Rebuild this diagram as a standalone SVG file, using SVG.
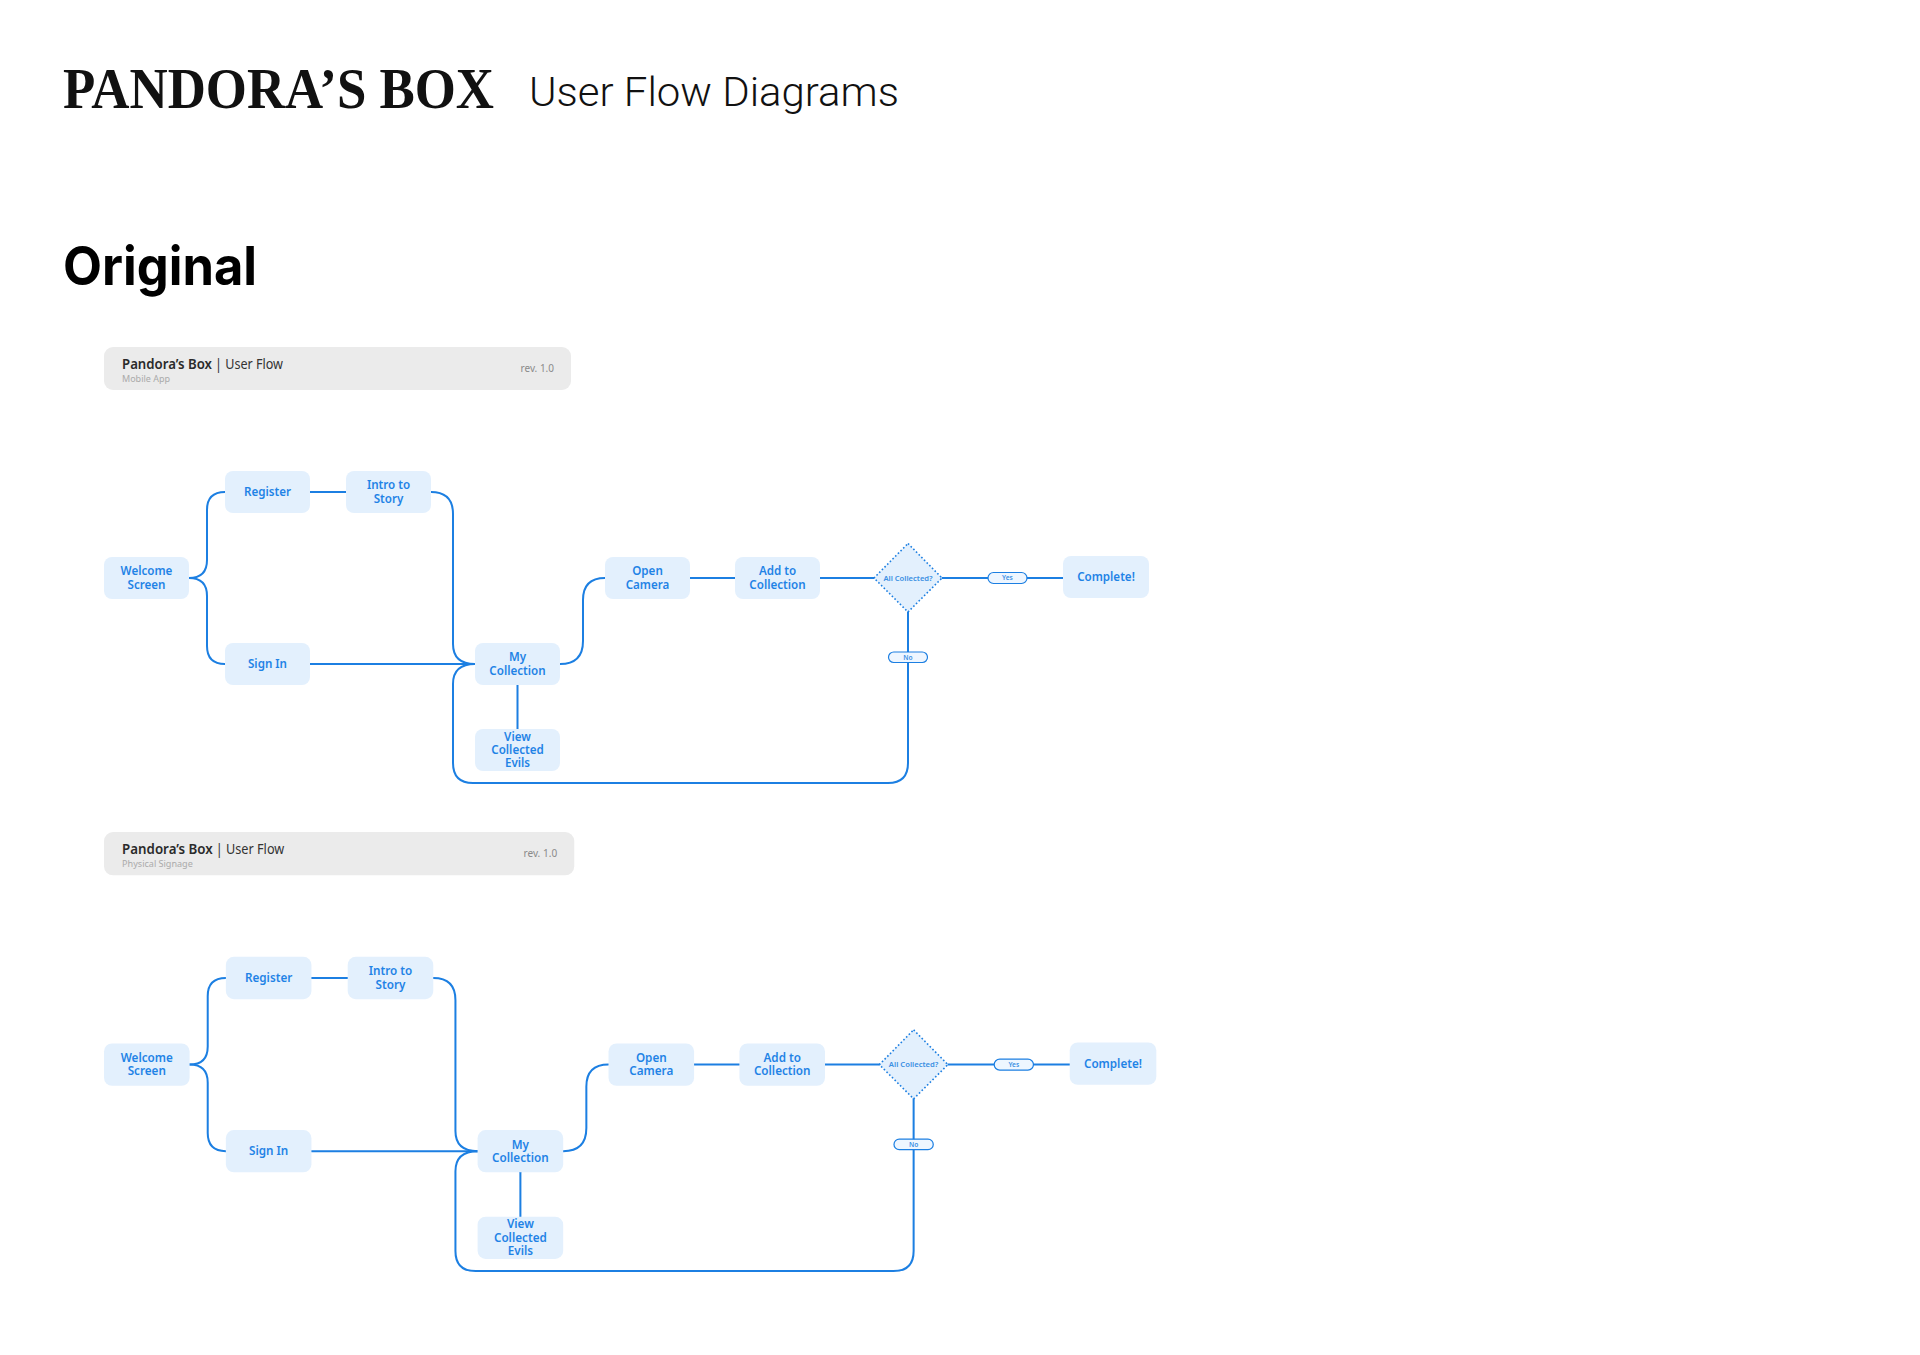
<svg xmlns="http://www.w3.org/2000/svg" width="1920" height="1355" viewBox="0 0 1920 1355">
<defs>
<style>
.bg{fill:#ffffff}
.node rect{fill:#e3f0fd}
.nt{font-family:"Noto Sans","Liberation Sans",sans-serif;font-size:11.6px;font-weight:600;fill:#1f83e6;text-anchor:middle}
.conn path{fill:none;stroke:#1c7fe2;stroke-width:2;stroke-linecap:round;stroke-linejoin:round}
.dia{fill:#e3f0fd;stroke:#1c7fe2;stroke-width:1.6;stroke-dasharray:1.6 2.2}
.dt{font-family:"Noto Sans","Liberation Sans",sans-serif;font-size:7.6px;font-weight:600;fill:#3a8fe3;text-anchor:middle}
.pill rect{fill:#eef6ff;stroke:#1c7fe2;stroke-width:1.2}
.pt{font-family:"Noto Sans","Liberation Sans",sans-serif;font-size:6.6px;font-weight:600;fill:#3a8fe3;text-anchor:middle}
.hdr rect{fill:#ebebeb}
.h1{font-family:"Noto Sans","Liberation Sans",sans-serif;font-size:13.5px;font-weight:600;fill:#2a2a2a}
.h2{font-family:"Noto Sans","Liberation Sans",sans-serif;font-size:13.5px;font-weight:400;fill:#333333}
.h3{font-family:"Noto Sans","Liberation Sans",sans-serif;font-size:9px;fill:#aaaaaa}
.h4{font-family:"Noto Sans","Liberation Sans",sans-serif;font-size:10px;fill:#8a8a8a;text-anchor:end}
</style>
</defs>
<rect class="bg" x="0" y="0" width="1920" height="1355"/>

<g id="title">
<text x="63" y="108" font-family="'Liberation Serif','Times New Roman',serif" font-weight="bold" font-size="58" fill="#111" textLength="431" lengthAdjust="spacingAndGlyphs">PANDORA’S BOX</text>
<text x="529" y="106" font-family="Roboto,'Liberation Sans',sans-serif" font-weight="300" font-size="40" fill="#111" textLength="370" lengthAdjust="spacingAndGlyphs">User Flow Diagrams</text>
<text x="63" y="285" font-family="Inter,'Liberation Sans',sans-serif" font-weight="700" font-size="53" fill="#000" textLength="194" lengthAdjust="spacingAndGlyphs">Original</text>
</g>

<!-- ============ FLOW 1 : Mobile App ============ -->
<g id="flow1">
<g id="f1-header" class="hdr">
<rect x="104" y="347" width="467" height="43" rx="9"/>
<text class="h1" x="122" y="369" textLength="90" lengthAdjust="spacingAndGlyphs">Pandora’s Box</text>
<text class="h2" x="215" y="369" textLength="68" lengthAdjust="spacingAndGlyphs">| User Flow</text>
<text class="h3" x="122" y="381.5">Mobile App</text>
<text class="h4" x="554" y="372">rev. 1.0</text>
</g>

<g id="f1-connectors" class="conn">
<path d="M189,578 Q207,578 207,560 V510 Q207,492 225,492"/>
<path d="M189,578 Q207,578 207,596 V646 Q207,664 225,664"/>
<path d="M310,492 H346"/>
<path d="M431,492 Q453,492 453,514 V644 Q453,664 475,664"/>
<path d="M310,664 H475"/>
<path d="M475,664 Q453,664 453,684 V763 Q453,783 473,783 H888 Q908,783 908,763 V612"/>
<path d="M517.5,685 V729"/>
<path d="M560,664 Q583,664 583,641 V600 Q583,578 605,578"/>
<path d="M690,578 H735"/>
<path d="M820,578 H874"/>
<path d="M942,578 H1063"/>
<g class="pill" id="f1-yes"><rect x="988" y="572.5" width="39" height="11" rx="5.5"/><text class="pt" x="1007.5" y="580.4">Yes</text></g>
<g class="pill" id="f1-no"><rect x="888.5" y="652" width="39" height="10.5" rx="5.25"/><text class="pt" x="908" y="659.6">No</text></g>
</g>

<g id="f1-welcome" class="node"><rect x="104" y="557" width="85" height="42" rx="8"/><text class="nt" x="146.5" y="575.4">Welcome</text><text class="nt" x="146.5" y="588.7">Screen</text></g>
<g id="f1-register" class="node"><rect x="225" y="471" width="85" height="42" rx="8"/><text class="nt" x="267.5" y="496">Register</text></g>
<g id="f1-intro" class="node"><rect x="346" y="471" width="85" height="42" rx="8"/><text class="nt" x="388.5" y="489.4">Intro to</text><text class="nt" x="388.5" y="502.7">Story</text></g>
<g id="f1-signin" class="node"><rect x="225" y="643" width="85" height="42" rx="8"/><text class="nt" x="267.5" y="668">Sign In</text></g>
<g id="f1-mycollection" class="node"><rect x="475" y="643" width="85" height="42" rx="8"/><text class="nt" x="517.5" y="661.4">My</text><text class="nt" x="517.5" y="674.7">Collection</text></g>
<g id="f1-view" class="node"><rect x="475" y="729" width="85" height="42" rx="8"/><text class="nt" x="517.5" y="740.7">View</text><text class="nt" x="517.5" y="754">Collected</text><text class="nt" x="517.5" y="767.3">Evils</text></g>
<g id="f1-camera" class="node"><rect x="605" y="557" width="85" height="42" rx="8"/><text class="nt" x="647.5" y="575.4">Open</text><text class="nt" x="647.5" y="588.7">Camera</text></g>
<g id="f1-add" class="node"><rect x="735" y="557" width="85" height="42" rx="8"/><text class="nt" x="777.5" y="575.4">Add to</text><text class="nt" x="777.5" y="588.7">Collection</text></g>
<g id="f1-decision" class="node"><polygon class="dia" points="908,543.5 942,578 908,612 874,578"/><text class="dt" x="908" y="580.6">All Collected?</text></g>
<g id="f1-complete" class="node"><rect x="1063" y="556" width="86" height="42" rx="8"/><text class="nt" x="1106" y="581">Complete!</text></g>
</g>

<!-- ============ FLOW 2 : Physical Signage ============ -->
<g id="flow2" transform="matrix(1.007 0 0 1.007 -0.73 482.57)">
<g id="f2-header" class="hdr">
<rect x="104" y="347" width="467" height="43" rx="9"/>
<text class="h1" x="122" y="369" textLength="90" lengthAdjust="spacingAndGlyphs">Pandora’s Box</text>
<text class="h2" x="215" y="369" textLength="68" lengthAdjust="spacingAndGlyphs">| User Flow</text>
<text class="h3" x="122" y="381.5">Physical Signage</text>
<text class="h4" x="554" y="372">rev. 1.0</text>
</g>

<g id="f2-connectors" class="conn">
<path d="M189,578 Q207,578 207,560 V510 Q207,492 225,492"/>
<path d="M189,578 Q207,578 207,596 V646 Q207,664 225,664"/>
<path d="M310,492 H346"/>
<path d="M431,492 Q453,492 453,514 V644 Q453,664 475,664"/>
<path d="M310,664 H475"/>
<path d="M475,664 Q453,664 453,684 V763 Q453,783 473,783 H888 Q908,783 908,763 V612"/>
<path d="M517.5,685 V729"/>
<path d="M560,664 Q583,664 583,641 V600 Q583,578 605,578"/>
<path d="M690,578 H735"/>
<path d="M820,578 H874"/>
<path d="M942,578 H1063"/>
<g class="pill" id="f2-yes"><rect x="988" y="572.5" width="39" height="11" rx="5.5"/><text class="pt" x="1007.5" y="580.4">Yes</text></g>
<g class="pill" id="f2-no"><rect x="888.5" y="652" width="39" height="10.5" rx="5.25"/><text class="pt" x="908" y="659.6">No</text></g>
</g>

<g id="f2-welcome" class="node"><rect x="104" y="557" width="85" height="42" rx="8"/><text class="nt" x="146.5" y="575.4">Welcome</text><text class="nt" x="146.5" y="588.7">Screen</text></g>
<g id="f2-register" class="node"><rect x="225" y="471" width="85" height="42" rx="8"/><text class="nt" x="267.5" y="496">Register</text></g>
<g id="f2-intro" class="node"><rect x="346" y="471" width="85" height="42" rx="8"/><text class="nt" x="388.5" y="489.4">Intro to</text><text class="nt" x="388.5" y="502.7">Story</text></g>
<g id="f2-signin" class="node"><rect x="225" y="643" width="85" height="42" rx="8"/><text class="nt" x="267.5" y="668">Sign In</text></g>
<g id="f2-mycollection" class="node"><rect x="475" y="643" width="85" height="42" rx="8"/><text class="nt" x="517.5" y="661.4">My</text><text class="nt" x="517.5" y="674.7">Collection</text></g>
<g id="f2-view" class="node"><rect x="475" y="729" width="85" height="42" rx="8"/><text class="nt" x="517.5" y="740.7">View</text><text class="nt" x="517.5" y="754">Collected</text><text class="nt" x="517.5" y="767.3">Evils</text></g>
<g id="f2-camera" class="node"><rect x="605" y="557" width="85" height="42" rx="8"/><text class="nt" x="647.5" y="575.4">Open</text><text class="nt" x="647.5" y="588.7">Camera</text></g>
<g id="f2-add" class="node"><rect x="735" y="557" width="85" height="42" rx="8"/><text class="nt" x="777.5" y="575.4">Add to</text><text class="nt" x="777.5" y="588.7">Collection</text></g>
<g id="f2-decision" class="node"><polygon class="dia" points="908,543.5 942,578 908,612 874,578"/><text class="dt" x="908" y="580.6">All Collected?</text></g>
<g id="f2-complete" class="node"><rect x="1063" y="556" width="86" height="42" rx="8"/><text class="nt" x="1106" y="581">Complete!</text></g>
</g>
</svg>
